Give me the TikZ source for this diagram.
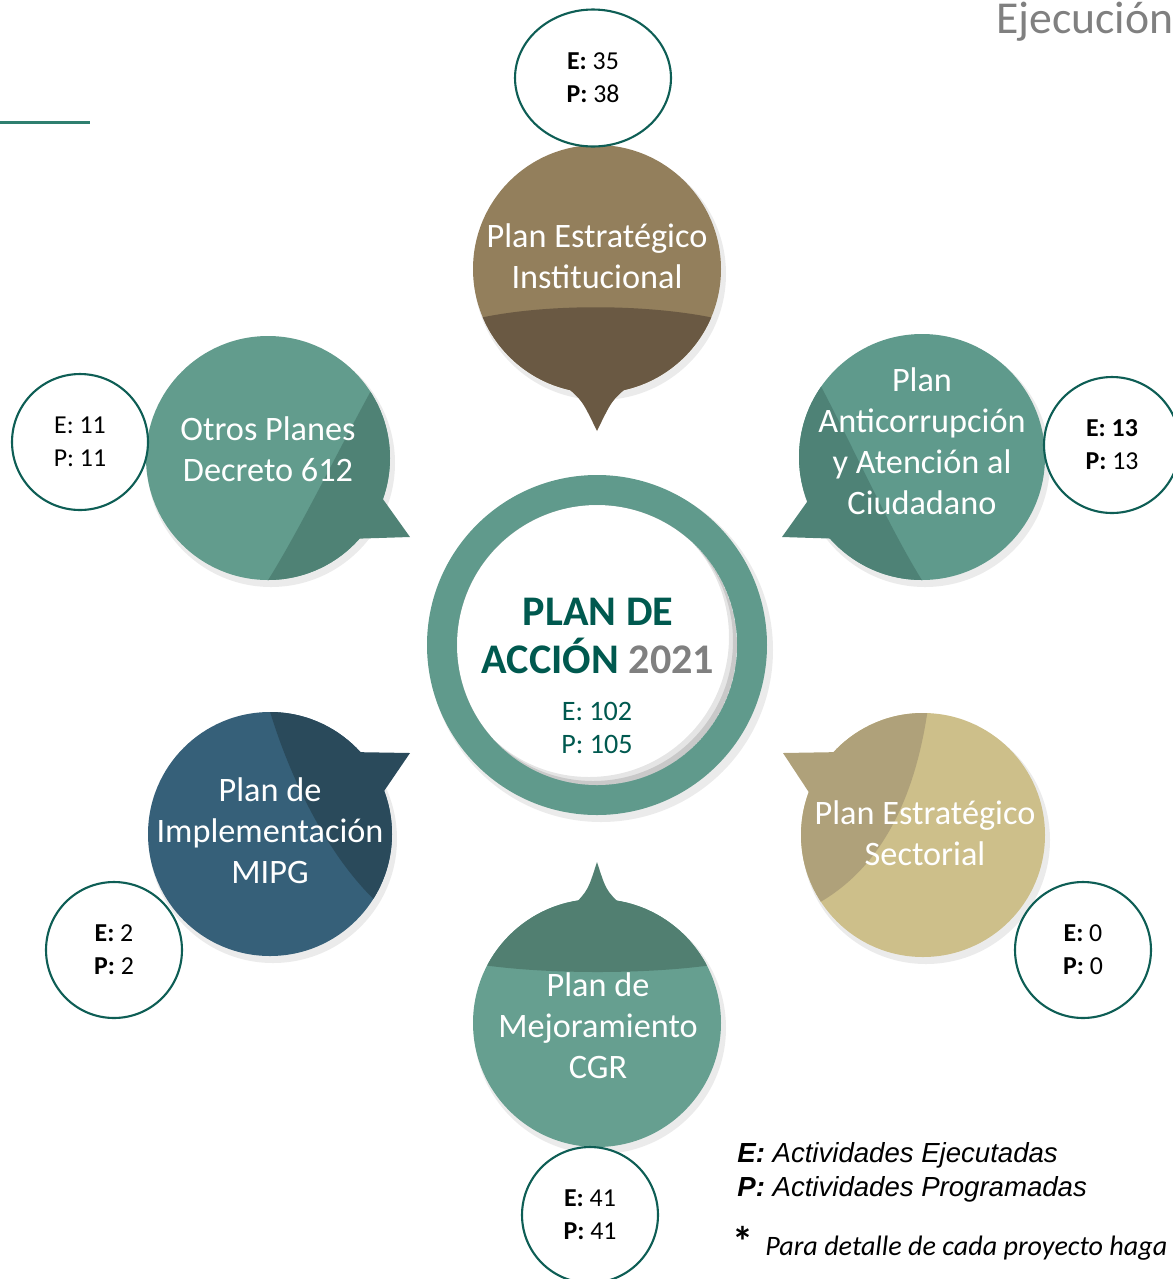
\documentclass[tikz,border=0pt]{standalone}
\usepackage{fontspec}
\setmainfont{Carlito}
\newfontfamily\arialfont{Liberation Sans}
\usepackage{tikz}
\usetikzlibrary{shapes.geometric}
\usepackage{xcolor}
\definecolor{cafe}{HTML}{937F5C}
\definecolor{cafeoscuro}{HTML}{6A5943}
\definecolor{verdeA}{HTML}{5F9A8C}
\definecolor{verdeAosc}{HTML}{4E8276}
\definecolor{verdeO}{HTML}{629C8D}
\definecolor{verdeOosc}{HTML}{4F8275}
\definecolor{azul}{HTML}{366079}
\definecolor{azulosc}{HTML}{2A4A5B}
\definecolor{arena}{HTML}{CDBF8A}
\definecolor{arenaosc}{HTML}{AFA17A}
\definecolor{verdeC}{HTML}{669F90}
\definecolor{verdeCosc}{HTML}{517F71}
\definecolor{anillo}{HTML}{609A8C}
\definecolor{tealtexto}{HTML}{00594F}
\definecolor{gris}{HTML}{808080}
\definecolor{borde}{HTML}{0E5E55}
\definecolor{linea}{HTML}{2F7F6F}

\begin{document}
\begin{tikzpicture}[x=0.02cm, y=-0.02cm,
    burbuja/.style={text=white, align=center, font=\fontsize{19.5}{23.3}\selectfont},
    conteo/.style={circle, draw=borde, line width=1.2pt, fill=white, minimum size=2.72cm,
        inner sep=0pt, align=center, font=\fontsize{14.7}{18.7}\selectfont}]
        \useasboundingbox (0, 0) rectangle (1173, 1279);
        % Header
        \draw [linea, line width=1.7pt] (0, 122) -- (90, 122);
        \node (ejec) [anchor=base west, text=gris, font=\fontsize{26}{30}\selectfont] at (990, 33) {Ejecución};
        % Plan Estrategico Institucional
        \fill [black, opacity=0.08] (600, 274) circle (126);
        \fill [cafe] (597, 269) circle (124);
        \begin{scope}
            \clip (597, 269) circle (124);
            \fill [cafeoscuro] (460, 323) .. controls (530, 302) and (660, 302) .. (735, 323) -- (735, 400) -- (460, 400) -- cycle;
        \end{scope}
        \fill [cafeoscuro] (564, 385) .. controls (582, 400) .. (597, 431) .. controls (612, 400) .. (630, 385) -- cycle;
        \node (pei) at (597, 256) [burbuja] {Plan Estratégico\\Institucional};
        % Plan Anticorrupcion
        \fill [black, opacity=0.08] (925, 462) circle (125);
        \fill [verdeA] (922, 457) circle (123);
        \begin{scope}
            \clip (922, 457) circle (123);
            \fill [verdeAosc] (815, 375) .. controls (855, 450) and (890, 530) .. (925, 585) -- (780, 585) -- (780, 375) -- cycle;
        \end{scope}
        \fill [verdeAosc] (812, 495) -- (782, 537) -- (845, 539) -- cycle;
        \node (anticorr) at (922, 441) [burbuja] {Plan\\Anticorrupción\\y Atención al\\Ciudadano};
        % Otros Planes
        \fill [black, opacity=0.08] (271, 463) circle (124);
        \fill [verdeO] (268, 458) circle (122);
        \begin{scope}
            \clip (268, 458) circle (122);
            \fill [verdeOosc] (378, 378) .. controls (338, 450) and (300, 530) .. (265, 585) -- (410, 585) -- (410, 378) -- cycle;
        \end{scope}
        \fill [verdeOosc] (380, 495) -- (410, 537) -- (347, 539) -- cycle;
        \node (otros) at (268, 449) [burbuja] {Otros Planes\\Decreto 612};
        % Plan de Implementacion MIPG
        \fill [black, opacity=0.08] (273, 839) circle (124);
        \fill [azul] (270, 834) circle (122);
        \begin{scope}
            \clip (270, 834) circle (122);
            \fill [azulosc] (268, 705) .. controls (290, 780) and (330, 860) .. (380, 905) -- (400, 905) -- (400, 705) -- cycle;
        \end{scope}
        \fill [azulosc] (350, 752) -- (410, 753) -- (380, 797) -- cycle;
        \node (mipg) at (270, 831) [burbuja] {Plan de\\Implementación\\MIPG};
        % Plan Estrategico Sectorial
        \fill [black, opacity=0.08] (926, 840) circle (124);
        \fill [arena] (923, 835) circle (122);
        \begin{scope}
            \clip (923, 835) circle (122);
            \fill [arenaosc] (928, 708) .. controls (915, 800) and (880, 870) .. (815, 905) -- (790, 905) -- (790, 708) -- cycle;
        \end{scope}
        \fill [arenaosc] (843, 752) -- (783, 753) -- (812, 797) -- cycle;
        \node (sectorial) at (925, 833) [burbuja] {Plan Estratégico\\Sectorial};
        % Plan de Mejoramiento CGR
        \fill [black, opacity=0.08] (600, 1028) circle (126);
        \fill [verdeC] (597, 1023) circle (124);
        \begin{scope}
            \clip (597, 1023) circle (124);
            \fill [verdeCosc] (470, 963) .. controls (540, 975) and (655, 975) .. (725, 963) -- (725, 895) -- (470, 895) -- cycle;
        \end{scope}
        \fill [verdeCosc] (574, 905) .. controls (588, 890) .. (597, 862) .. controls (606, 890) .. (621, 905) -- cycle;
        \node (cgr) at (598, 1026) [burbuja] {Plan de\\Mejoramiento\\CGR};
        % Central ring
        \fill [black, opacity=0.08] (601, 650) circle (172);
        \fill [anillo] (597, 645) circle (170);
        \fill [white] (597, 645) circle (140);
        \begin{scope}
            \clip (597, 645) circle (140);
            \fill [black, opacity=0.10, even odd rule] (597, 645) circle (140) (589, 637) circle (140);
            \fill [black, opacity=0.12, even odd rule] (597, 645) circle (140) (593, 641) circle (140);
        \end{scope}
        \node (titulo) at (598, 636) [align=center, text=tealtexto, font=\bfseries\fontsize{24}{27.5}\selectfont] {PLAN DE\\ACCIÓN \textcolor{gris}{2021}};
        \node (totales) at (597, 728) [align=center, text=tealtexto, font=\fontsize{16}{19.3}\selectfont] {E: 102\\P: 105};
        % Counts
        \node (cpei) at (593, 78) [conteo, ellipse, minimum width=3.12cm, minimum height=2.74cm] {\textbf{E:} 35\\\textbf{P:} 38};
        \node (canti) at (1112, 445) [conteo] {\textbf{E: 13}\\\textbf{P:} 13};
        \node (cotros) at (80, 442) [conteo] {E: 11\\P: 11};
        \node (cmipg) at (114, 950) [conteo] {\textbf{E:} 2\\\textbf{P:} 2};
        \node (csect) at (1083, 950) [conteo] {\textbf{E:} 0\\\textbf{P:} 0};
        \node (ccgr) at (590, 1215) [conteo] {\textbf{E:} 41\\\textbf{P:} 41};
        % Legend
        \node (leyE) [anchor=base west, inner sep=0pt, font=\arialfont\itshape\fontsize{15.7}{19}\selectfont] at (737, 1162) {\textbf{E:} Actividades Ejecutadas};
        \node (leyP) [anchor=base west, inner sep=0pt, font=\arialfont\itshape\fontsize{15.7}{19}\selectfont] at (737, 1196) {\textbf{P:} Actividades Programadas};
        \node (ast) [anchor=base west, inner sep=0pt, font=\bfseries\fontsize{24}{24}\selectfont] at (732, 1256) {*};
        \node (nota) [anchor=base west, inner sep=0pt, font=\itshape\fontsize{16}{19}\selectfont] at (765, 1255) {Para detalle de cada proyecto haga};
    \end{tikzpicture}
\end{document}
